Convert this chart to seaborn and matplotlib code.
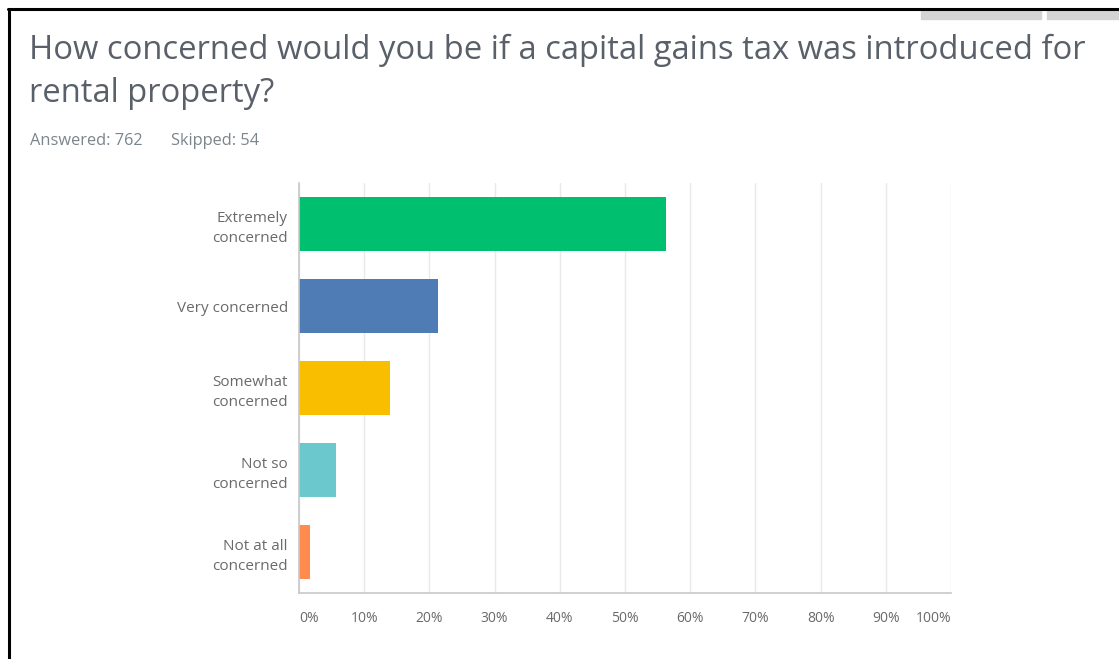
import matplotlib
matplotlib.use("Agg")
import matplotlib.pyplot as plt
import seaborn as sns
import pandas as pd
from matplotlib.patches import Rectangle
from matplotlib.lines import Line2D

categories = ["Extremely\nconcerned", "Very concerned", "Somewhat\nconcerned",
              "Not so\nconcerned", "Not at all\nconcerned"]
percent = [56.3, 21.3, 14.0, 5.7, 1.7]
colors = ["#00BF6F", "#507CB6", "#F9BE00", "#6BC8CD", "#FF8B4F"]
tick_values = [0, 10, 20, 30, 40, 50, 60, 70, 80, 90, 100]
tick_labels = [f"{v}%" for v in tick_values]
title = "How concerned would you be if a capital gains tax was introduced for\nrental property?"
answered = 762
skipped = 54

sns.set_theme(style="white")
plt.rcParams["font.family"] = ["Open Sans", "DejaVu Sans"]

W, H = 1119, 659
fig = plt.figure(figsize=(W / 100, H / 100), dpi=100)
fig.patch.set_facecolor("white")

# plot area in pixel coordinates
left, right, top, bottom = 299, 951, 183, 593
ax = fig.add_axes([left / W, 1 - bottom / H, (right - left) / W, (bottom - top) / H])

df = pd.DataFrame({"category": categories, "percent": percent})
sns.barplot(data=df, x="percent", y="category", hue="category", palette=colors,
            legend=False, width=0.65, ax=ax, saturation=1, edgecolor="none")

ax.set_xlim(0, 100)
ax.set_ylim(len(categories) - 0.5, -0.5)
ax.set_xticks(tick_values)
ax.set_xticklabels(tick_labels)
ax.set_xlabel("")
ax.set_ylabel("")
ax.grid(axis="x", color="#e9e9e9", linewidth=1)
ax.set_axisbelow(True)
for s in ["top", "right"]:
    ax.spines[s].set_visible(False)
ax.spines["left"].set_color("#c8c8c8")
ax.spines["bottom"].set_color("#c8c8c8")
ax.spines["left"].set_linewidth(1.2)
ax.spines["bottom"].set_linewidth(1.2)
ax.tick_params(axis="x", length=0, pad=13, labelsize=10, labelcolor="#6a6a6a")
ax.tick_params(axis="y", length=0, pad=8, labelsize=11, labelcolor="#6a6a6a")
for lbl in ax.get_yticklabels():
    lbl.set_horizontalalignment("right")
    lbl.set_multialignment("right")
    lbl.set_linespacing(1.45)
xt = ax.get_xticklabels()
xt[0].set_horizontalalignment("left")
xt[-1].set_horizontalalignment("right")

# title and response counts
fig.text(29 / W, 1 - 34 / H, title, fontsize=23.6, color="#596069",
         ha="left", va="top", linespacing=1.4)
fig.text(30 / W, 1 - 141 / H, f"Answered: {answered}", fontsize=11.8,
         color="#7b858c", ha="left", va="center")
fig.text(171 / W, 1 - 141 / H, f"Skipped: {skipped}", fontsize=11.8,
         color="#7b858c", ha="left", va="center")

# page frame and header buttons
fig.add_artist(Rectangle((921 / W, 1 - 19 / H), 120 / W, 10 / H,
                         transform=fig.transFigure, color="#d4d4d4", zorder=1))
fig.add_artist(Rectangle((1047 / W, 1 - 19 / H), 72 / W, 10 / H,
                         transform=fig.transFigure, color="#d4d4d4", zorder=1))
fig.add_artist(Line2D([8 / W, 1], [1 - 9 / H, 1 - 9 / H], transform=fig.transFigure,
                      color="black", linewidth=2.2, zorder=3))
fig.add_artist(Line2D([9 / W, 9 / W], [0, 1 - 9 / H], transform=fig.transFigure,
                      color="black", linewidth=2.2, zorder=3))

fig.savefig("out.png", dpi=100, facecolor="white")
